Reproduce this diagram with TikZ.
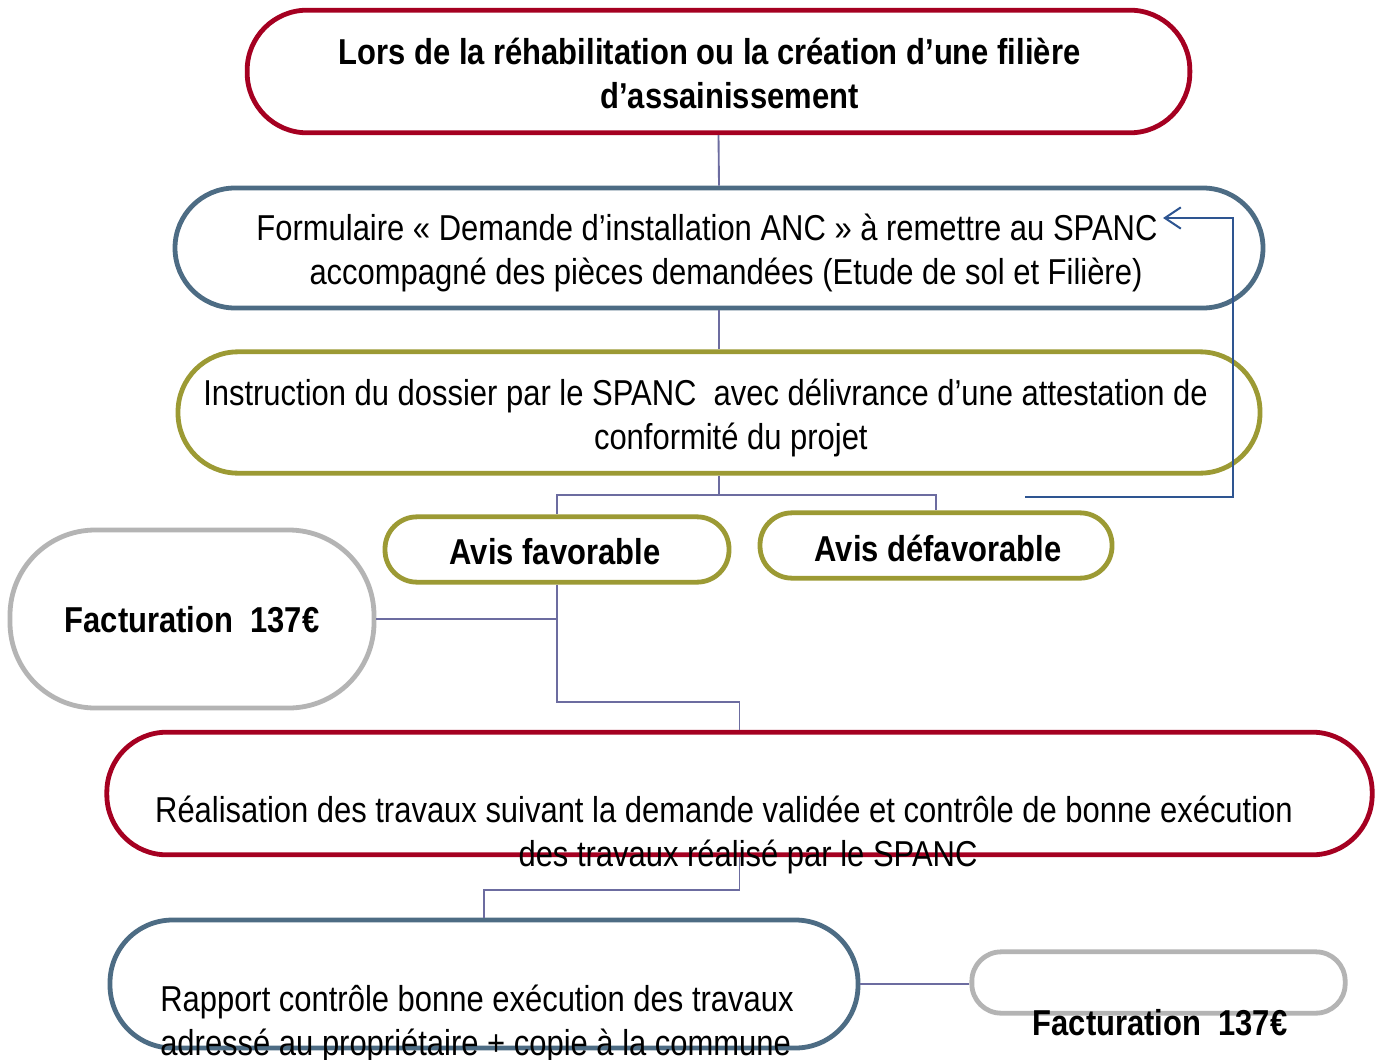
\documentclass[tikz,border=0pt]{standalone}
\usepackage{fontspec}
\setmainfont{Liberation Sans}[FakeStretch=0.86]
\usetikzlibrary{arrows.meta}
\definecolor{cred}{RGB}{165,0,33}
\definecolor{cblue}{RGB}{77,108,132}
\definecolor{colive}{RGB}{156,154,52}
\definecolor{cgray}{RGB}{180,180,180}
\definecolor{cconn}{RGB}{108,108,160}
\definecolor{carrow}{RGB}{46,85,145}
\tikzset{
  boxshape/.style={draw, line width=3.6pt, fill=white, inner sep=0pt, rectangle},
  txt/.style={align=center, inner sep=0pt, font=\fontsize{27}{33}\selectfont},
  btxt/.style={align=center, inner sep=0pt, font=\fontsize{27}{33}\selectfont\bfseries},
  conn/.style={draw=cconn, line width=1.4pt},
  fbarrow/.style={draw=carrow, line width=1.5pt, -{Straight Barb[length=12pt,width=16pt,line width=1.5pt]}}
}
\begin{document}
\begin{tikzpicture}[x=0.75pt,y=-0.75pt]
\clip (0,0) rectangle (1383,1059);
\useasboundingbox (0,0) rectangle (1383,1059);
\fill[white] (0,0) rectangle (1383,1059);
\coordinate (fbstart) at (1025,497);
\coordinate (fbend) at (1163,218);
% boxes
\node[boxshape, draw=cred, rounded corners=45pt, minimum width=707pt, minimum height=92pt] (top) at (718.5,71.5) {};
\node[boxshape, draw=cblue, rounded corners=45pt, minimum width=816pt, minimum height=90pt] (form) at (719,248) {};
\node[boxshape, draw=colive, rounded corners=45pt, minimum width=811.5pt, minimum height=91pt] (instr) at (719,412.5) {};
\node[boxshape, draw=colive, rounded corners=24pt, minimum width=258pt, minimum height=49pt] (fav) at (557,549.5) {};
\node[boxshape, draw=colive, rounded corners=24pt, minimum width=264pt, minimum height=49pt] (defav) at (936,545.5) {};
\node[boxshape, draw=cgray, rounded corners=64pt, minimum width=273pt, minimum height=133.5pt] (fact1) at (192,619) {};
\node[boxshape, draw=cred, rounded corners=45pt, minimum width=949pt, minimum height=92pt] (real) at (739.5,793.5) {};
\node[boxshape, draw=cblue, rounded corners=47pt, minimum width=561pt, minimum height=96pt] (rapport) at (484,984) {};
\node[boxshape, draw=cgray, rounded corners=22pt, minimum width=280pt, minimum height=46pt] (fact2) at (1158.5,982.5) {};
% connectors
\draw[conn] (top.south) -- (form.north);
\draw[conn] (form.south) -- (instr.north);
\draw[conn] (instr.south) -- (instr.south |- 0,495) -| (fav.north);
\draw[conn] (instr.south |- 0,495) -| (defav.north);
\draw[conn] (fav.south) -- (fav.south |- 0,702) -| (real.north);
\draw[conn] (fact1.east) -- (fact1.east -| fav.south);
\draw[conn] (real.south) -- (real.south |- 0,890) -| (rapport.north);
\draw[conn] (rapport.east) -- (rapport.east -| fact2.west);
\draw[fbarrow] (fbstart) -- (fbstart -| 1233,0) |- (fbend);
% texts
\node[btxt] (ttop) at (709.5,73) {Lors de la réhabilitation ou la création d’une filière\\\hspace*{30pt}d’assainissement};
\node[txt] (tform) at (707,253) {Formulaire « Demande d’installation ANC » à remettre au SPANC\\\hspace*{28.5pt}accompagné des pièces demandées (Etude de sol et Filière)};
\node[txt] (tinstr) at (705.5,418) {Instruction du dossier par le SPANC\ \ avec délivrance d’une attestation de\\\hspace*{38pt}conformité du projet};
\node[btxt] (tfav) at (555,552) {Avis favorable};
\node[btxt] (tdefav) at (938,548) {Avis défavorable};
\node[btxt] (tfact1) at (192,620) {Facturation\ \ 137€};
\node[txt] (treal) at (724,835) {Réalisation des travaux suivant la demande validée et contrôle de bonne exécution\\\hspace*{36pt}des travaux réalisé par le SPANC};
\node[txt, align=left, anchor=west] (trap) at (160,1024) {Rapport contrôle bonne exécution des travaux\\adressé au propriétaire + copie à la commune};
\node[btxt] (tfact2) at (1160,1023) {Facturation\ \ 137€};
\end{tikzpicture}
\end{document}
